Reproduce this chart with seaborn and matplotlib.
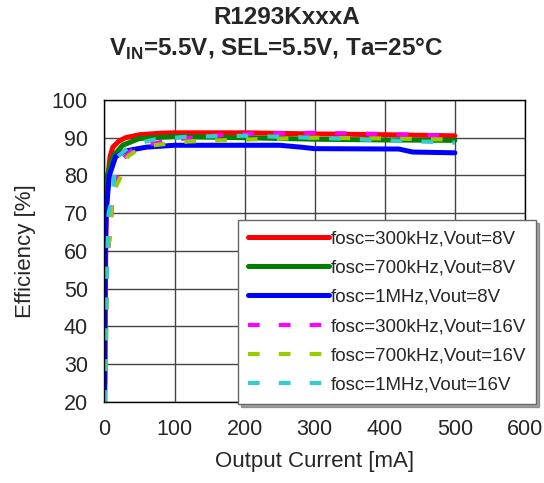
import matplotlib
matplotlib.use("Agg")
import matplotlib.pyplot as plt
import numpy as np
import pandas as pd
import seaborn as sns

# efficiency curves
x_300k_8v = [0.5, 1, 2, 3, 5, 8, 12, 20, 30, 50, 80, 100, 150, 200, 300, 400, 500]
y_300k_8v = [25, 45, 62, 72, 80, 85, 87.5, 89, 90, 90.8, 91.2, 91.3, 91.3, 91.3, 91, 90.8, 90.5]

x_700k_8v = [0.3, 0.8, 1.5, 4, 12, 26, 50, 100, 200, 300, 400, 500]
y_700k_8v = [20, 50, 70, 80, 85, 88, 89.8, 90.3, 90, 89.6, 89.4, 89.3]

x_1m_8v = [0.3, 0.5, 1, 2.3, 7, 16, 30, 60, 100, 150, 250, 280, 300, 420, 440, 500]
y_1m_8v = [20, 40, 60, 70, 80, 85, 86.5, 87.5, 88, 88, 88, 87.5, 87.1, 87, 86.2, 86]

x_300k_16v = [0.5, 2, 4, 8.6, 12, 24, 41, 70, 100, 150, 200, 300, 400, 500]
y_300k_16v = [20, 40, 58, 66, 75, 84, 87, 88.5, 89.5, 90.5, 91, 91.3, 91, 90.5]

x_700k_16v = [0.5, 3, 4, 9, 11, 24, 33, 45, 70, 120, 200, 300, 400, 500]
y_700k_16v = [20, 40, 60, 65, 75, 80, 85, 86.5, 88, 89, 89.5, 90, 89.8, 89.5]

x_1m_16v = [0.5, 2, 4, 6, 12, 14, 19, 38, 70, 120, 200, 300, 400, 500]
y_1m_16v = [20, 40, 60, 70, 75, 80, 85, 88, 89.5, 90.3, 90.5, 90, 89.3, 88.7]

labels = ["fosc=300kHz,Vout=8V", "fosc=700kHz,Vout=8V", "fosc=1MHz,Vout=8V",
          "fosc=300kHz,Vout=16V", "fosc=700kHz,Vout=16V", "fosc=1MHz,Vout=16V"]
xs = [x_300k_8v, x_700k_8v, x_1m_8v, x_300k_16v, x_700k_16v, x_1m_16v]
ys = [y_300k_8v, y_700k_8v, y_1m_8v, y_300k_16v, y_700k_16v, y_1m_16v]
colors = ["#FF0000", "#008000", "#0000FF", "#FF00FF", "#99CC00", "#33CCCC"]
styles = ["-", "-", "-", (0, (2.8, 4.6)), (0, (2.8, 4.6)), (0, (2.8, 4.6))]

sns.set_style("white")
plt.rcParams["font.family"] = ["Liberation Sans", "DejaVu Sans"]

fig = plt.figure(figsize=(5.44, 4.83), dpi=100)
ax = fig.add_axes([0.192, 0.168, 0.773, 0.625])

for x, y, lab, c, ls in zip(xs, ys, labels, colors, styles):
    df = pd.DataFrame({"I": x, "eff": y})
    lw = 3.6 if ls == "-" else 3.0
    sns.lineplot(data=df, x="I", y="eff", ax=ax, color=c, linestyle=ls,
                 linewidth=lw, label=lab, solid_capstyle="round",
                 dash_capstyle="butt", sort=False)

ax.set_xlim(0, 600)
ax.set_ylim(20, 100)
ax.set_xticks(np.arange(0, 601, 100))
ax.set_yticks(np.arange(20, 101, 10))
ax.grid(True, color="#444444", linewidth=1.0)
ax.set_axisbelow(True)
for s in ax.spines.values():
    s.set_color("black")
    s.set_linewidth(1.0)
ax.tick_params(axis="x", length=0, labelsize=15.5, pad=12)
ax.tick_params(axis="y", length=0, labelsize=15.5, pad=12)

ax.set_xlabel("Output Current [mA]", fontsize=16, labelpad=8)
ax.set_ylabel("Efficiency [%]", fontsize=16, labelpad=11)

fig.text(0.527, 0.963, "R1293KxxxA", ha="center", va="center",
         fontsize=17.5, fontweight="bold")
fig.text(0.507, 0.898, r"V$_{\mathregular{IN}}$=5.5V, SEL=5.5V, Ta=25°C",
         ha="center", va="center", fontsize=17.5, fontweight="bold")

leg = ax.legend(loc="upper left", bbox_to_anchor=(0.317, 0.603, 0.0, 0.0),
                fontsize=13.5, frameon=True, fancybox=False, shadow=True,
                handlelength=4.3, handletextpad=0.1, labelspacing=0.65,
                borderpad=0.55, borderaxespad=0)
leg.get_frame().set_edgecolor("#666666")
leg.get_frame().set_linewidth(1.0)

fig.savefig("out.png", dpi=100)
